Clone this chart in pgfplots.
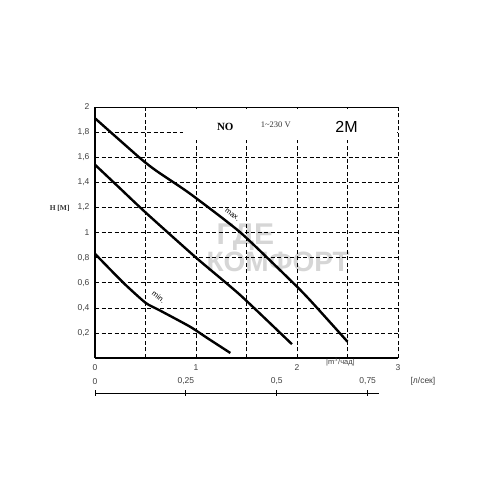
\documentclass[border=0pt]{standalone}
\usepackage{pgfplots}
\pgfplotsset{compat=1.18}
\usepackage{fontspec}
\setmainfont{Liberation Serif}
\newfontfamily\arial{Liberation Sans}
\begin{document}
\begin{tikzpicture}[x=1pt,y=1pt]
\useasboundingbox[fill=white] (0,0) rectangle (496,496);
% watermark
\node[text=gray!32, font=\arial\bfseries\fontsize{30}{30}\selectfont, anchor=west] at (213,259) {ГДЕ};
\node[text=gray!32, font=\arial\bfseries\fontsize{28}{28}\selectfont, anchor=west] at (203,234) {КОМФОРТ};
\begin{axis}[
  at={(95pt,138pt)}, anchor=south west,
  scale only axis, width=303pt, height=251pt,
  xmin=0, xmax=3, ymin=0, ymax=2,
  axis x line*=bottom, axis y line*=left,
  axis line style={line width=1.6pt},
  xtick={0,1,2,3}, minor xtick={0.5,1.5,2.5},
  ytick={0.2,0.4,...,2.01},
  major tick length=0pt, minor tick length=0pt,
  xmajorgrids, xminorgrids, ymajorgrids,
  grid style={black, dash pattern=on 4pt off 2.5pt, line width=0.5pt},
  minor grid style={black, dash pattern=on 4pt off 2.5pt, line width=0.5pt},
  /pgf/number format/use comma,
  /pgf/number format/assume math mode=true,
  ticklabel style={font=\arial\fontsize{8.5}{9}\selectfont, text=black!75},
  xticklabel style={yshift=-3pt},
  yticklabel style={xshift=-2pt},
  clip=false,
]
% right and top dashed borders
\addplot[black, dash pattern=on 4pt off 2.5pt, line width=0.5pt] coordinates {(3,0) (3,2) (0,2)};
% blank area behind header
\fill[white] (axis cs:0.87,1.74) rectangle (axis cs:2.99,1.985);
\addplot[black, line width=2.4pt, line join=round, smooth, tension=0.35] coordinates {
(0,1.91) (0.45,1.59) (0.61,1.49) (0.94,1.31) (1.44,1.0) (1.96,0.60) (2.13,0.46) (2.5,0.13)};
\addplot[black, line width=2.4pt, line join=round, smooth, tension=0.35] coordinates {
(0,1.54) (0.25,1.35) (0.5,1.16) (1.0,0.80) (1.44,0.50) (1.95,0.11)};
\addplot[black, line width=2.4pt, line join=round, smooth, tension=0.35] coordinates {
(0,0.83) (0.28,0.60) (0.5,0.44) (0.64,0.38) (0.94,0.25) (1.11,0.16) (1.34,0.04)};
\node[font=\arial\fontsize{7.5}{8}\selectfont, rotate=-38] at (axis cs:1.36,1.14) {max.};
\node[font=\arial\fontsize{7.5}{8}\selectfont, rotate=-38] at (axis cs:0.63,0.485) {min.};
\node[font=\bfseries\fontsize{11}{11}\selectfont] at (axis cs:1.29,1.84) {NO};
\node[font=\fontsize{8.5}{9}\selectfont, text=black!80] at (axis cs:1.79,1.86) {1\textasciitilde230 V};
\node[font=\arial\fontsize{16}{16}\selectfont] at (axis cs:2.49,1.84) {2M};
\node[font=\bfseries\fontsize{7.5}{8}\selectfont, text=black!80] at (axis cs:-0.35,1.19) {H [M]};
\node[font=\arial\fontsize{7.5}{8}\selectfont, text=black!75] at (axis cs:2.43,-0.035) {|m$^3$/чад|};
\end{axis}
\begin{axis}[
  at={(95pt,103pt)}, anchor=south west,
  scale only axis, width=284pt, height=10pt,
  xmin=0, xmax=0.7811, ymin=0, ymax=1,
  axis y line=none, axis x line=bottom,
  axis line style={line width=0.8pt, -},
  xtick={0,0.25,0.5,0.75},
  xticklabels={0,{0,25},{0,5},{0,75}},
  tick align=center, major tick length=6pt,
  xtick style={line width=0.8pt, black},
  xticklabel pos=upper,
  xticklabel style={font=\arial\fontsize{8.5}{9}\selectfont, text=black!75, anchor=south, yshift=8pt},
  clip=false,
]
\node[font=\arial\fontsize{8.5}{9}\selectfont, text=black!75] at (axis cs:0.902,1.2) {[л/сек]};
\end{axis}
\end{tikzpicture}
\end{document}
